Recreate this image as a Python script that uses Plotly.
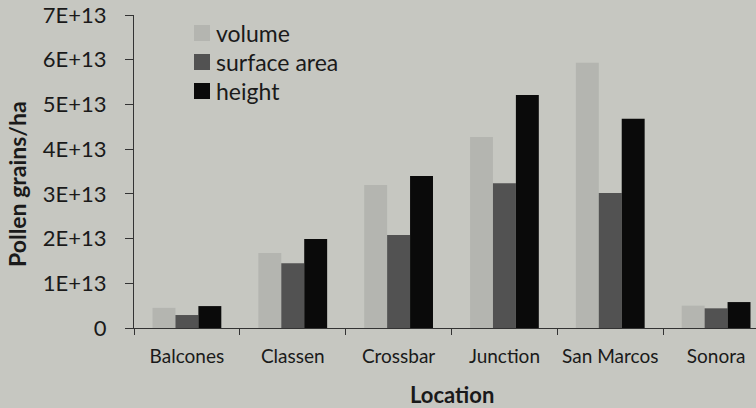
import plotly.graph_objects as go

locations = ["Balcones", "Classen", "Crossbar", "Junction", "San Marcos", "Sonora"]
volume = [0.45e13, 1.68e13, 3.2e13, 4.27e13, 5.93e13, 0.5e13]
surface_area = [0.29e13, 1.45e13, 2.08e13, 3.24e13, 3.02e13, 0.44e13]
height = [0.49e13, 1.99e13, 3.40e13, 5.21e13, 4.68e13, 0.58e13]

series_names = ["volume", "surface area", "height"]
series_colors = ["#b4b5b0", "#525252", "#0a0a0a"]

y_tickvals = [0, 1e13, 2e13, 3e13, 4e13, 5e13, 6e13, 7e13]
y_ticktext = ["0", "1E+13", "2E+13", "3E+13", "4E+13", "5E+13", "6E+13", "7E+13"]

BG = "#c6c7c1"
FONT = "Lato"
TXT = "#1a1a1a"
W, H = 756, 408
L, R, T, B = 134, 0, 15, 80
PW, PH = W - L - R, H - T - B


def px_x(x):
    return (x - L) / PW


def px_y(y):
    return (H - B - y) / PH


fig = go.Figure()
for name, vals, col in zip(series_names, [volume, surface_area, height], series_colors):
    fig.add_trace(go.Bar(x=locations, y=vals, name=name, marker=dict(color=col, line=dict(width=0))))

fig.update_layout(
    width=W, height=H,
    margin=dict(l=L, r=R, t=T, b=B),
    paper_bgcolor=BG, plot_bgcolor=BG,
    barmode="group", bargap=0.35, bargroupgap=0,
    font=dict(family=FONT, color=TXT),
    showlegend=False,
)
fig.update_xaxes(
    range=[-0.5, 5.377], showline=True, linecolor="#333", linewidth=1,
    ticks="outside", ticklen=6, tickcolor="#333", tickson="boundaries",
    tickfont=dict(size=19, family=FONT, color=TXT),
    ticklabelstandoff=11,
    showgrid=False, zeroline=False,
)
fig.update_yaxes(
    range=[0, 7e13], tickvals=y_tickvals, ticktext=y_ticktext,
    showline=True, linecolor="#333", linewidth=1,
    ticks="outside", ticklen=8, tickcolor="#333",
    tickfont=dict(size=22, family=FONT, color=TXT),
    ticklabelstandoff=14,
    showgrid=False, zeroline=False,
)

# legend (manual, to match the reference's compact layout)
leg_y = [33, 62, 91]
for name, col, yc in zip(series_names, series_colors, leg_y):
    fig.add_shape(type="rect", xref="paper", yref="paper",
                  x0=px_x(194), x1=px_x(210), y0=px_y(yc + 8), y1=px_y(yc - 8),
                  fillcolor=col, line=dict(width=0))
    fig.add_annotation(text=name, xref="paper", yref="paper",
                       x=px_x(214), y=px_y(yc), xanchor="left", yanchor="middle",
                       showarrow=False, font=dict(size=23, family=FONT, color=TXT))

# axis titles
fig.add_annotation(text="<b>Location</b>", xref="paper", yref="paper",
                   x=px_x(452), y=px_y(394), xanchor="center", yanchor="middle",
                   showarrow=False, font=dict(size=22, family=FONT, color=TXT))
fig.add_annotation(text="<b>Pollen grains/ha</b>", xref="paper", yref="paper",
                   x=px_x(17), y=px_y(184), xanchor="center", yanchor="middle",
                   textangle=-90, showarrow=False,
                   font=dict(size=23, family=FONT, color=TXT))

fig.write_html("out.html", config={"displayModeBar": False},
               post_script="document.body.style.margin='0';document.body.style.background='" + BG + "';")
